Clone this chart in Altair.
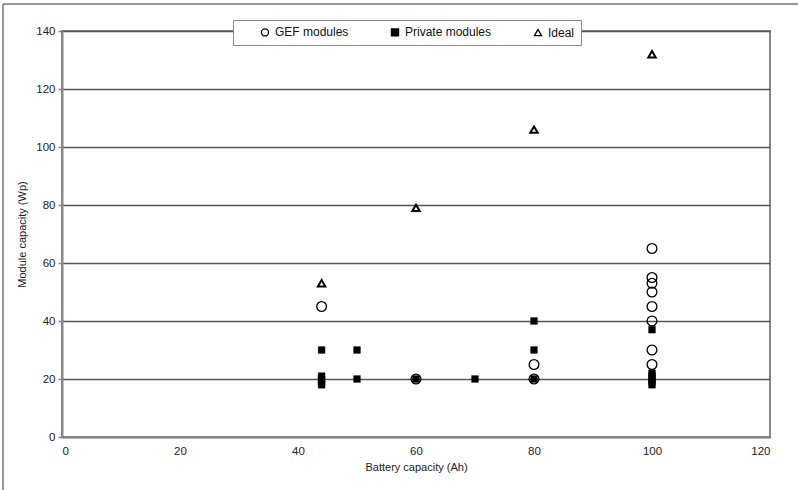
import altair as alt
import pandas as pd

# GEF modules (open circles)
gef_x = [44, 60, 80, 80, 100, 100, 100, 100, 100, 100, 100, 100]
gef_y = [45, 20, 20, 25, 65, 55, 53, 50, 45, 40, 30, 25]

# Private modules (filled squares)
priv_x = [44, 44, 44, 44, 44, 50, 50, 60, 70, 80, 80, 80, 100, 100, 100, 100, 100, 100]
priv_y = [30, 21, 20, 19, 18, 30, 20, 20, 20, 40, 30, 20, 37, 22, 21, 20, 19, 18]

# Ideal (open triangles)
ideal_x = [44, 60, 80, 100]
ideal_y = [53, 79, 106, 132]

series_names = ["GEF modules", "Private modules", "Ideal"]
x_ticks = [0, 20, 40, 60, 80, 100, 120]
y_ticks = [0, 20, 40, 60, 80, 100, 120, 140]

df = pd.concat([
    pd.DataFrame({"x": gef_x, "y": gef_y, "series": series_names[0]}),
    pd.DataFrame({"x": priv_x, "y": priv_y, "series": series_names[1]}),
    pd.DataFrame({"x": ideal_x, "y": ideal_y, "series": series_names[2]}),
])

FONT = "Liberation Sans"

xenc = alt.X("x:Q", scale=alt.Scale(domain=[0, 120], nice=False),
             axis=alt.Axis(values=x_ticks, title="Battery capacity (Ah)", grid=False,
                           ticks=False, labelPadding=8, titlePadding=5,
                           domainColor="#888", domainWidth=2))
yenc = alt.Y("y:Q", scale=alt.Scale(domain=[0, 140], nice=False),
             axis=alt.Axis(values=y_ticks, title="Module capacity (Wp)", grid=True,
                           gridColor="#555", gridWidth=1.5, tickSize=4, tickColor="#888",
                           tickWidth=1.5, labelPadding=3, titlePadding=8,
                           domainColor="#888", domainWidth=2))

legend = alt.Legend(title=None, orient="none", direction="horizontal",
                    legendX=171, legendY=-11, fillColor="white",
                    strokeColor="#888", padding=6, columnPadding=20,
                    symbolSize=50, symbolOffset=20, labelOffset=4,
                    symbolStrokeWidth=1.3,
                    labelFont=FONT, labelFontSize=12, labelColor="#111")

shape_enc = alt.Shape("series:N", scale=alt.Scale(domain=series_names,
                      range=["circle", "square", "triangle-up"]), legend=legend)
fill_enc = alt.Fill("series:N", scale=alt.Scale(domain=series_names,
                    range=["white", "black", "white"]), legend=legend)
stroke_enc = alt.Stroke("series:N", scale=alt.Scale(domain=series_names,
                        range=["black", "black", "black"]), legend=legend)

base = alt.Chart(df).encode(x=xenc, y=yenc, shape=shape_enc, fill=fill_enc, stroke=stroke_enc)

gef = base.transform_filter(alt.datum.series == series_names[0]).mark_point(
    size=95, strokeWidth=1.3, opacity=1, fillOpacity=0)
priv = base.transform_filter(alt.datum.series == series_names[1]).mark_point(
    size=45, strokeWidth=0.5, opacity=1, fillOpacity=1)
ideal = base.transform_filter(alt.datum.series == series_names[2]).mark_point(
    size=55, strokeWidth=2, opacity=1, fillOpacity=0)

# outer frame (top and left edges of the figure)
frame_df = pd.DataFrame({"k": [0]})
frame_top = alt.Chart(frame_df).mark_rule(color="#777", strokeWidth=1.5).encode(
    x=alt.value(-59), x2=alt.value(736), y=alt.value(-27))
frame_left = alt.Chart(frame_df).mark_rule(color="#777", strokeWidth=1.5).encode(
    x=alt.value(-59), y=alt.value(-27), y2=alt.value(459))

chart = alt.layer(frame_top, frame_left, gef, priv, ideal).properties(
    width=708, height=406,
    autosize=alt.AutoSizeParams(type="none"),
    padding={"left": 62, "top": 31, "right": 28, "bottom": 53},
    background="white",
).configure_view(stroke="#888", strokeWidth=2).configure_axis(
    labelFont=FONT, labelFontSize=11.5, labelColor="#222",
    titleFont=FONT, titleFontSize=11, titleFontWeight="normal", titleColor="#222",
)

chart.save("out.html", embed_options={"renderer": "svg", "actions": False})
